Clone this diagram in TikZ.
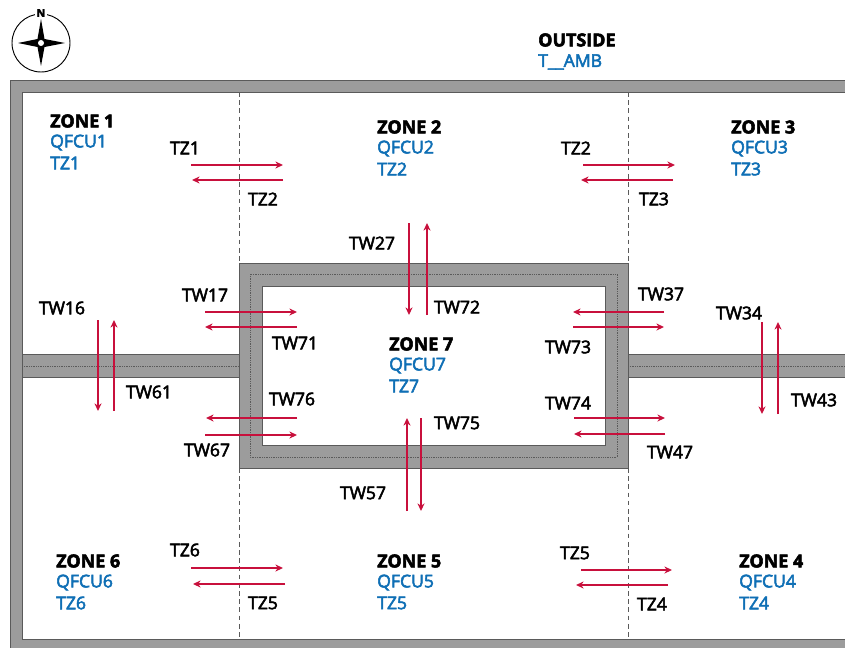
\documentclass[tikz,border=0pt]{standalone}
\usepackage{fontspec}
\setmainfont{Open Sans}
\newfontfamily\labelfont[FakeBold=3]{Open Sans}
\newfontfamily\zonefont[FakeBold=3]{Open Sans Bold}
\definecolor{wallgray}{HTML}{9C9C9C}
\definecolor{wallline}{HTML}{5A5A5A}
\definecolor{flowred}{HTML}{C8103C}
\definecolor{unitblue}{HTML}{0F6FB5}
\usetikzlibrary{arrows.meta}
\tikzset{
	wall/.style={fill=wallgray,draw=wallline,line width=0.7pt},
	midline/.style={draw=wallline,densely dotted,line width=0.5pt},
	zoneline/.style={draw=wallline,dash pattern=on 4pt off 3pt,line width=0.5pt},
	flow/.style={draw=flowred,line width=1.1pt,-{Stealth[length=6.5pt,width=6pt]}},
	flowlabel/.style={font=\labelfont\fontsize{15}{15}\selectfont,inner sep=0pt},
	zonelabel/.style={font=\zonefont\fontsize{15.3}{15}\selectfont,anchor=west,inner sep=0pt},
	unitlabel/.style={font=\labelfont\fontsize{15}{15}\selectfont,text=unitblue,anchor=west,inner sep=0pt}
}
\begin{document}
\begin{tikzpicture}[x=0.03cm,y=-0.03cm,line join=miter,>=stealth]
	\def \xmax{845}
	\def \ymax{647}
	\clip (0,0) rectangle (\xmax,\ymax);
	% outer wall and zone limits
	\draw[wall,even odd rule] (10,80) rectangle (\xmax+10,\ymax+10) (22,92) rectangle (\xmax+10,639);
	\draw[zoneline] (239,92) -- (239,263) (239,468) -- (239,639);
	\draw[zoneline] (628,92) -- (628,263) (628,468) -- (628,639);
	% side walls
	\draw[wall] (22,354) rectangle (239,377);
	\draw[wall] (628,354) rectangle (\xmax+10,377);
	\draw[midline] (22,366) -- (239,366);
	\draw[midline] (628,366) -- (\xmax,366);
	% core
	\draw[wall,even odd rule] (239,263) rectangle (628,468) (262,286) rectangle (605,445);
	\draw[midline] (250,274) rectangle (617,457);
	% compass
	\draw[line width=0.8pt] (41,43) circle (29);
	\fill (41,19) -- (44.5,39) -- (65,43) -- (44.5,47) -- (41,66) -- (37.5,47) -- (18,43) -- (37.5,39) -- cycle;
	\fill[white] (41,43) circle (3);
	\node[fill=white,inner sep=1.5pt,font=\zonefont\fontsize{9}{9}\selectfont] (north) at (41,13) {N};
	% outside
	\node[zonelabel] (outside) at (538,40) {OUTSIDE};
	\node[unitlabel] (ambient) at (538,62) {T\_\_AMB};
	% zones
	\foreach \n/\xa/\ya in {1/50/121,2/377/127,3/731/127,4/739/561,5/377/561,6/56/561,7/389/344}{
		\node[zonelabel] (zone\n) at (\xa,\ya) {ZONE \n};
		\node[unitlabel] (qfcu\n) at (\xa,\ya+21.5) {QFCU\n};
		\node[unitlabel] (tz\n) at (\xa,\ya+42) {TZ\n};
	}
	% flow arrows
	\foreach \n/\xa/\ya/\xb/\yb in {
		a/191/165/283/165,b/283/180/192/180,c/583/165/675/165,d/673/180/581/180,
		e/409/223/409/315,f/427/315/427/223,g/205/312/297/312,h/297/327/205/327,
		i/98/320/98/411,j/114/411/114/320,k/297/418/206/418,l/205/435/297/435,
		m/664/312/573/312,o/573/327/664/327,p/762/322/762/414,q/778/414/778/322,
		r/574/418/665/418,s/665/434/574/434,t/407/511/407/418,u/421/418/421/511,
		v/191/568/283/568,w/285/584/193/584,y/581/570/672/570,z/668/585/576/585}{
		\coordinate (\n0) at (\xa,\ya);
		\coordinate (\n1) at (\xb,\yb);
		\draw[flow] (\n0) -- (\n1);
	}
	% flow labels
	\foreach \n/\t/\xa/\ya in {
		la/TZ1/185/148,lb/TZ2/263/199,lc/TZ2/576/148,ld/TZ3/654/199,
		le/TW27/372/243,lf/TW72/457/307,lg/TW17/205/295,lh/TW71/295/343,
		li/TW16/62/308,lj/TW61/149/392,lk/TW76/292/399,ll/TW67/207/450,
		lm/TW37/661/294,lo/TW73/568/347,lp/TW34/739/313,lq/TW43/814/400,
		lr/TW74/568/403,ls/TW47/670/452,lt/TW57/363/493,lu/TW75/457/423,
		lv/TZ6/185/550,lw/TZ5/263/603,ly/TZ5/575/553,lz/TZ4/652/604}{
		\node[flowlabel] (\n) at (\xa,\ya) {\t};
	}
\end{tikzpicture}
\end{document}
